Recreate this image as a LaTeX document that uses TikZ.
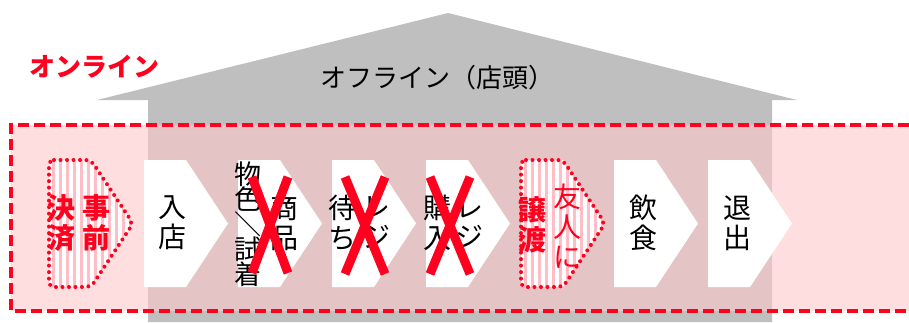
\documentclass[tikz,border=0pt]{standalone}
\usepackage{fontspec}
\newfontfamily\jp{Noto Sans CJK JP}
\definecolor{myred}{RGB}{255,0,30}
\definecolor{housegray}{RGB}{191,191,191}
\definecolor{pinkfill}{RGB}{255,200,204}
\definecolor{stripe}{RGB}{255,190,198}
\tikzset{
  colt/.style={font=\jp\fontsize{28}{30}\selectfont, align=center, inner sep=0pt, text=black},
  colr/.style={colt, text=myred},
  colrb/.style={colt, text=myred, font=\jp\bfseries\fontsize{28}{30}\selectfont},
  cross/.style={myred, line width=9pt},
  pics/chev/.style={code={
    \fill[white] (0,0) -- (42,0) -- (84,63.5) -- (42,127) -- (0,127) -- cycle;
  }},
  pics/dchev/.style={code={
    \begin{scope}
      \clip (0,0) -- (42,0) -- (84,63.5) -- (42,127) -- (0,127) -- cycle;
      \fill[white] (0,0) rectangle (84,127);
      \foreach \i in {0,...,12} \fill[stripe] (3+\i*7,0) rectangle ++(3,127);
    \end{scope}
    \draw[myred, line width=4pt, dash pattern=on 0pt off 6.5pt, line cap=round, rounded corners=5pt]
      (0,0) -- (42,0) -- (84,63.5) -- (42,127) -- (0,127) -- cycle;
  }}
}
\begin{document}
\begin{tikzpicture}[x=1pt,y=-1pt]
\useasboundingbox (0,0) rectangle (909,322);
\clip (0,0) rectangle (909,322);
% house
\fill[housegray] (448,13) -- (797,100) -- (772,100) -- (772,322) -- (148,322) -- (148,100) -- (97,100) -- cycle;
\node[font=\jp\fontsize{26}{28}\selectfont] (offline) at (437,78) {オフライン（店頭）};
\node[font=\jp\bfseries\fontsize{26}{28}\selectfont, text=myred] (online) at (94,67) {オンライン};
% online region
\fill[pinkfill, fill opacity=0.6] (11,125) rectangle (925,311);
\draw[myred, line width=3.5pt, dash pattern=on 11pt off 5pt] (925,125) -- (11,125) -- (11,311) -- (925,311);
% chevrons
\pic at (49,160) {dchev};
\pic at (144,160) {chev};
\pic at (238,160) {chev};
\pic at (332,160) {chev};
\pic at (426,160) {chev};
\pic at (521,160) {dchev};
\pic at (614,160) {chev};
\pic at (708,160) {chev};
% texts
\node[colrb] (jizen) at (96,223) {事\\前};
\node[colrb] (kessai) at (61,223) {決\\済};
\node[colt] (nyuten) at (172,223) {入\\店};
\node[colt, font=\jp\fontsize{27}{25}\selectfont] (busshoku) at (248,224) {物\\色\\＼\\試\\着};
\node[colt] (shohin) at (284,223) {商\\品};
\node[colt] (machi) at (342,223) {待\\ち};
\node[colt] (reji1) at (376,223) {レ\\ジ};
\node[colt] (konyu) at (437,223) {購\\入};
\node[colt] (reji2) at (469,223) {レ\\ジ};
\node[colr] (yujin) at (567,226) {友\\人\\に};
\node[colrb] (joto) at (532,225) {譲\\渡};
\node[colt] (inshoku) at (643,223) {飲\\食};
\node[colt] (taishutsu) at (737,223) {退\\出};
% crosses
\draw[cross] (252,177) -- (288,273);
\draw[cross] (288,177) -- (252,273);
\draw[cross] (345,177) -- (385,274);
\draw[cross] (385,177) -- (345,274);
\draw[cross] (430,177) -- (470,274);
\draw[cross] (470,177) -- (430,274);
\end{tikzpicture}
\end{document}
